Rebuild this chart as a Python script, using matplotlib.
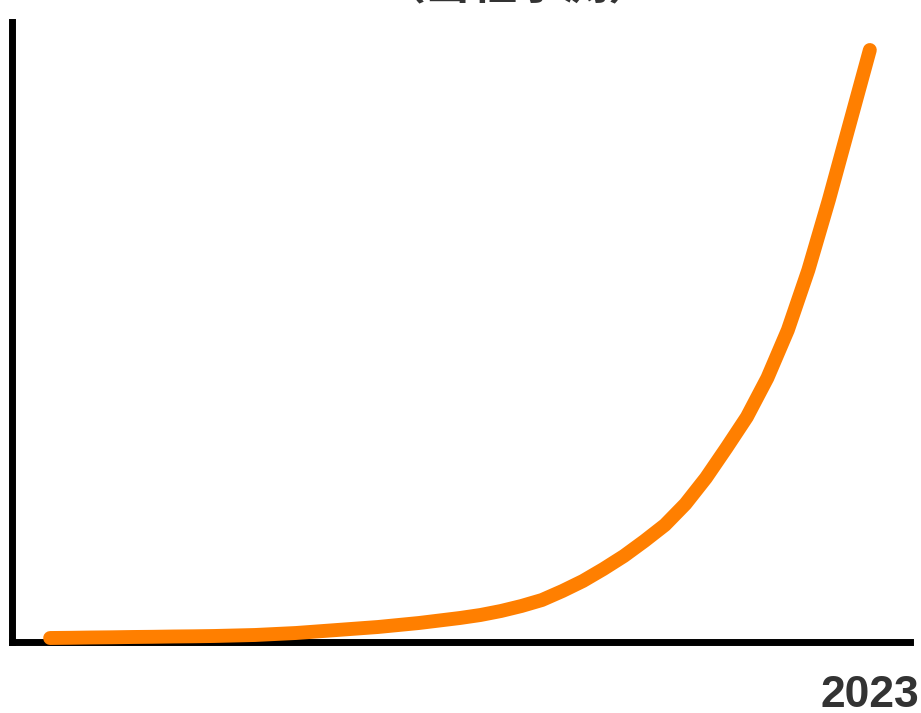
import matplotlib.pyplot as plt

plt.rcParams['font.family'] = ['Noto Sans CJK JP', 'DejaVu Sans']

# half-yearly values (index scale), 2003 to 2023
periods = [2003 + 0.5 * k for k in range(41)]
values = [2, 2.2, 2.5, 2.7, 3, 3.2, 3.5, 3.7, 4, 4.5,
          5, 6, 7, 8.5, 10, 11.5, 13, 15, 17, 19.5,
          22, 25, 29, 34, 40, 49, 59, 71, 84, 99,
          115, 136, 162, 192, 223, 262, 310, 370, 440, 515,
          590]
tick_years = [2023]
tick_labels = ['2023']
title = '（当社予測）'

fig = plt.figure(figsize=(9.21, 7.13), dpi=100)
W, H = 921, 713
ax = fig.add_axes([12 / W, (H - 642) / H, (910 - 12) / W, (642 - 22) / H])

ax.plot(periods, values, color='#FF7F00', lw=10, solid_capstyle='round',
        solid_joinstyle='round', zorder=3, clip_on=False)

ax.set_xlim(2002.07, 2023.98)
ax.set_ylim(-2, 618)

for side in ['top', 'right']:
    ax.spines[side].set_visible(False)
for side in ['left', 'bottom']:
    ax.spines[side].set_linewidth(5)
    ax.spines[side].set_color('black')

ax.set_yticks([])
ax.set_xticks(tick_years)
ax.set_xticklabels(tick_labels, fontfamily='Liberation Sans', fontweight='bold',
                   fontsize=32, color='#333333')
ax.tick_params(axis='x', length=0, pad=24)

fig.text(517 / W, 1 - 8 / H, title, ha='center', va='bottom',
         fontsize=33, fontweight='bold', color='#333333')

fig.savefig('out.png', dpi=100)
